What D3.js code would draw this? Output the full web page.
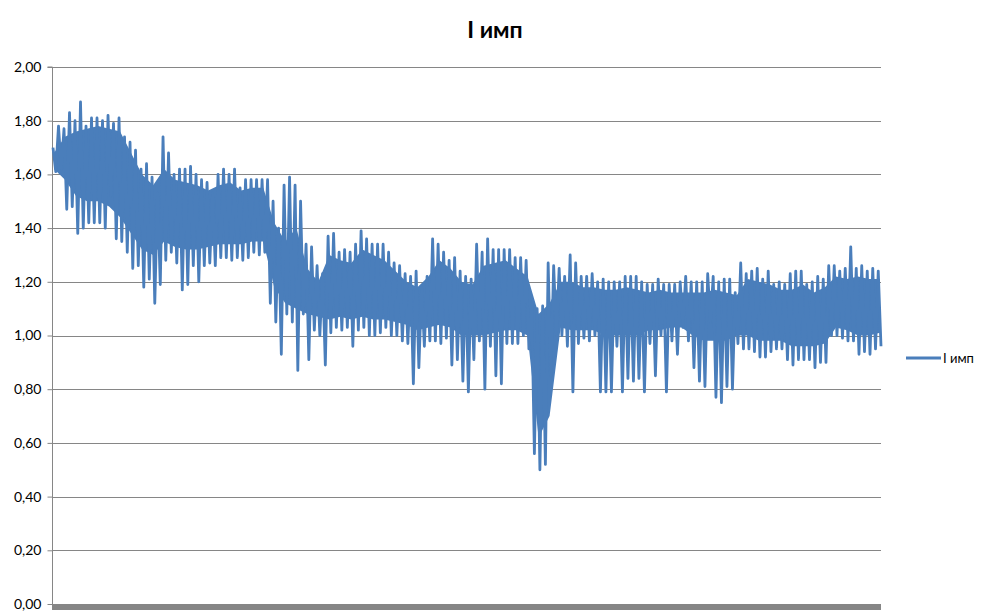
<!DOCTYPE html>
<html>
<head>
<meta charset="utf-8">
<script src="https://cdn.jsdelivr.net/npm/d3@7"></script>
<style>
  html, body { margin: 0; padding: 0; background: #fff; }
  svg { display: block; font-family: Lato, "Open Sans", "DejaVu Sans", sans-serif; }
</style>
</head>
<body>
<svg id="chart" width="995" height="612"></svg>
<script>
// ---- data ----
const title = "I имп";
const seriesName = "I имп";
const yTicks = [0, 0.2, 0.4, 0.6, 0.8, 1.0, 1.2, 1.4, 1.6, 1.8, 2.0];

// local maxima / minima along the series, in order
const highs = [
  1.70,1.78,1.77,1.83,1.80,1.87,1.78,1.81,1.81,1.80,
  1.82,1.79,1.81,1.74,1.72,1.69,1.62,1.64,1.59,1.53,
  1.74,1.68,1.60,1.62,1.62,1.63,1.60,1.58,1.57,1.53,
  1.60,1.62,1.60,1.62,1.55,1.58,1.58,1.58,1.58,1.58,
  1.50,1.40,1.56,1.59,1.56,1.50,1.34,1.33,1.26,1.23,
  1.37,1.38,1.31,1.32,1.31,1.34,1.39,1.36,1.34,1.34,
  1.34,1.31,1.27,1.26,1.23,1.22,1.24,1.18,1.22,1.36,
  1.34,1.31,1.28,1.29,1.24,1.22,1.21,1.34,1.31,1.36,
  1.32,1.32,1.32,1.32,1.29,1.29,1.28,1.12,1.10,1.11,
  1.27,1.26,1.25,1.22,1.30,1.27,1.22,1.22,1.23,1.20,
  1.21,1.20,1.20,1.20,1.22,1.22,1.22,1.20,1.19,1.19,
  1.21,1.19,1.19,1.19,1.20,1.22,1.20,1.20,1.20,1.23,
  1.22,1.20,1.21,1.21,1.16,1.27,1.23,1.24,1.25,1.21,
  1.24,1.19,1.20,1.19,1.23,1.24,1.24,1.19,1.20,1.22,
  1.21,1.26,1.26,1.24,1.25,1.33,1.25,1.26,1.24,1.25,
  1.24
];
const lows = [
  1.61,1.62,1.47,1.48,1.38,1.40,1.42,1.42,1.42,1.40,
  1.52,1.36,1.35,1.31,1.25,1.26,1.18,1.21,1.12,1.19,
  1.28,1.31,1.27,1.17,1.19,1.26,1.20,1.26,1.27,1.26,
  1.29,1.29,1.28,1.29,1.28,1.29,1.31,1.30,1.31,1.12,
  1.05,0.93,1.08,1.05,0.87,1.08,0.91,1.02,1.00,0.89,
  1.01,1.03,1.02,1.03,0.96,1.02,1.03,1.00,1.00,1.01,
  1.03,1.00,1.00,0.98,0.97,0.82,0.88,0.96,0.98,0.98,
  0.97,0.99,0.89,0.91,0.83,0.79,0.91,0.98,0.80,0.96,
  0.85,0.82,0.97,0.97,0.97,1.00,0.95,0.56,0.50,0.52,
  0.85,1.00,1.00,0.96,0.79,0.97,0.99,0.98,1.00,0.79,
  0.79,0.79,0.96,0.79,0.84,0.83,0.84,0.79,0.97,0.85,
  1.00,0.79,0.98,0.93,1.03,0.98,0.88,0.83,0.81,1.05,
  0.77,0.75,0.81,0.80,0.97,0.95,0.95,0.94,0.92,0.92,
  0.94,0.95,0.95,0.91,0.89,0.91,0.91,0.91,0.88,0.90,
  0.90,1.00,1.00,0.99,0.98,0.98,0.93,0.94,0.93,0.95,
  0.96
];

// solid core of the dense band (upper / lower edge), sampled evenly along the series
const coreTop = [
  1.68,1.74,1.76,1.77,1.78,1.77,1.76,1.68,1.60,1.56,
  1.62,1.58,1.57,1.56,1.54,1.56,1.57,1.54,1.55,1.55,
  1.42,1.35,1.40,1.25,1.20,1.30,1.28,1.27,1.32,1.30,
  1.28,1.24,1.20,1.18,1.22,1.28,1.25,1.20,1.19,1.26,
  1.27,1.28,1.25,1.22,1.08,1.12,1.20,1.20,1.18,1.18,
  1.17,1.17,1.18,1.17,1.16,1.17,1.16,1.16,1.16,1.16,
  1.17,1.16,1.15,1.21,1.20,1.19,1.17,1.17,1.19,1.16,
  1.18,1.22,1.21,1.22,1.21,1.21
];
const coreBottom = [
  1.62,1.58,1.52,1.50,1.50,1.48,1.44,1.38,1.32,1.30,
  1.35,1.33,1.32,1.32,1.33,1.34,1.34,1.34,1.35,1.35,
  1.18,1.12,1.10,1.08,1.07,1.06,1.07,1.06,1.07,1.06,
  1.06,1.05,1.04,1.02,1.03,1.04,1.03,1.00,1.00,1.00,
  1.01,1.02,1.02,1.00,0.62,0.70,1.03,1.02,1.02,1.02,
  1.00,1.00,1.00,1.00,1.02,1.02,1.03,1.03,1.00,0.98,
  0.98,0.98,1.00,1.00,0.98,0.98,0.98,0.96,0.96,0.96,
  0.97,1.03,1.02,1.00,1.00,1.01
];

// ---- build series table ----
const values = [];
highs.forEach((h, i) => { values.push(h); values.push(lows[i]); });
const core = coreTop.map((t, i) => ({ t, b: coreBottom[i] }));

// ---- layout ----
const svg = d3.select("#chart");
const plot = { left: 52, right: 881, top: 67, bottom: 604 };
const blue = "#4a7ebb";

const x = d3.scaleLinear().domain([0, values.length - 1]).range([plot.left + 1, plot.right]);
const xc = d3.scaleLinear().domain([0, core.length - 1]).range([plot.left + 2, plot.right - 1]);
const y = d3.scaleLinear().domain([0, 2]).range([plot.bottom, plot.top]);

const grey = "#868686";
const fmt = v => d3.format(".2f")(v).replace(".", ",");

// gridlines
svg.append("g")
  .selectAll("line")
  .data(yTicks.filter(d => d > 0))
  .join("line")
  .attr("x1", plot.left).attr("x2", plot.right)
  .attr("y1", d => Math.round(y(d)) + 0.5).attr("y2", d => Math.round(y(d)) + 0.5)
  .attr("stroke", grey).attr("stroke-width", 1);

// y axis
const yAxis = d3.axisLeft(y).tickValues(yTicks).tickFormat(fmt).tickSize(5).tickPadding(6);
const gy = svg.append("g").attr("transform", `translate(${plot.left + 0.5},0)`).call(yAxis);
gy.select(".domain").attr("stroke", grey).attr("d", `M-5,${plot.top}H0V${plot.bottom + 5}`);
gy.selectAll(".tick line").attr("stroke", grey);
gy.selectAll(".tick text")
  .attr("fill", "#000")
  .style("font-size", "14px")
  .style("font-family", "Lato, 'Open Sans', sans-serif");

// x axis (dense category ticks render as a thick grey bar)
svg.append("rect")
  .attr("x", plot.left).attr("y", plot.bottom)
  .attr("width", plot.right - plot.left).attr("height", 6)
  .attr("fill", grey);

// dense band core
const area = d3.area().x((d, i) => xc(i)).y0(d => y(d.b)).y1(d => y(d.t));
svg.append("path").datum(core).attr("fill", blue).attr("d", area);

// series line
const line = d3.line().x((d, i) => x(i)).y(d => y(d));
svg.append("path")
  .datum(values)
  .attr("fill", "none")
  .attr("stroke", blue)
  .attr("stroke-width", 2.8)
  .attr("stroke-linejoin", "round")
  .attr("d", line);

// title
svg.append("text")
  .attr("x", 495).attr("y", 38)
  .attr("text-anchor", "middle")
  .style("font-size", "23px").style("font-weight", "bold")
  .attr("fill", "#000")
  .text(title);

// legend
const lg = svg.append("g").attr("transform", "translate(906,358)");
lg.append("line").attr("x1", 0).attr("x2", 35).attr("y1", 0).attr("y2", 0)
  .attr("stroke", blue).attr("stroke-width", 3);
lg.append("text").attr("x", 37).attr("y", 5)
  .style("font-size", "13px").attr("fill", "#000").text(seriesName);
</script>
</body>
</html>
